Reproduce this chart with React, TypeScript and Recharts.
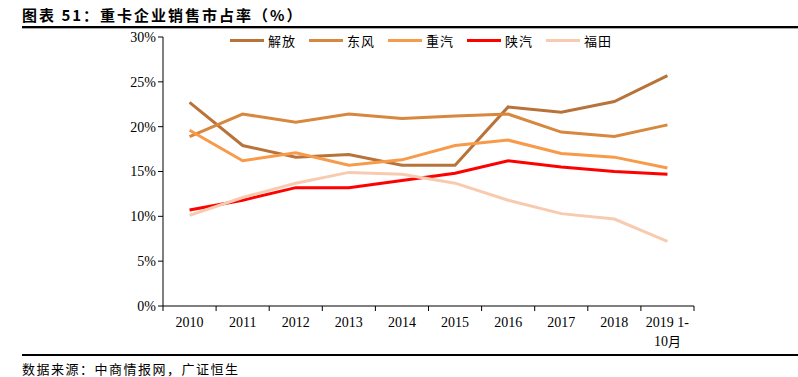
import React from "react";
import { LineChart, Line, XAxis, YAxis } from "recharts";

const years = ["2010", "2011", "2012", "2013", "2014", "2015", "2016", "2017", "2018", "2019 1-\n10月"];
const jiefang = [22.7, 17.9, 16.6, 16.9, 15.7, 15.7, 22.2, 21.6, 22.8, 25.7];
const dongfeng = [18.9, 21.4, 20.5, 21.4, 20.9, 21.2, 21.4, 19.4, 18.9, 20.2];
const zhongqi = [19.6, 16.2, 17.1, 15.7, 16.3, 17.9, 18.5, 17.0, 16.6, 15.4];
const shanqi = [10.7, 11.8, 13.2, 13.2, 14.0, 14.8, 16.2, 15.5, 15.0, 14.7];
const futian = [10.1, 12.1, 13.7, 14.9, 14.7, 13.7, 11.8, 10.3, 9.7, 7.2];
const yTicks = [0, 5, 10, 15, 20, 25, 30];

const series = [
  { key: "解放", values: jiefang, color: "#b8733a" },
  { key: "东风", values: dongfeng, color: "#d8873f" },
  { key: "重汽", values: zhongqi, color: "#f79a4a" },
  { key: "陕汽", values: shanqi, color: "#ff0000" },
  { key: "福田", values: futian, color: "#f8cbb0" },
];

const data = years.map((y, i) => {
  const row: Record<string, number> = { x: i };
  series.forEach((s) => (row[s.key] = s.values[i]));
  return row;
});

const labelTicks = years.map((_, i) => i);
const boundaryTicks = [...years.map((_, i) => i - 0.5), years.length - 0.5];

const SERIF = "'Liberation Serif', 'Times New Roman', serif";
const CJK = "'Noto Sans CJK SC', sans-serif";

function YearTick(props: any) {
  const { x, y, payload } = props;
  const lines = String(years[payload.value] ?? "").split("\n");
  return (
    <text x={x} y={y + 12} textAnchor="middle" fontSize={14} fill="#000" fontFamily={SERIF}>
      {lines.map((l, i) => (
        <tspan key={i} x={x} dy={i === 0 ? 0 : 19}>
          {l.includes("月") ? (
            <>
              {l.replace("月", "")}
              <tspan fontFamily={CJK} fontSize={13}>月</tspan>
            </>
          ) : (
            l
          )}
        </tspan>
      ))}
    </text>
  );
}

export default function App() {
  return (
    <div
      style={{
        position: "absolute",
        left: 0,
        top: 0,
        width: 798,
        height: 377,
        background: "#fff",
        overflow: "hidden",
      }}
    >
      <div
        style={{
          position: "absolute",
          left: 22,
          top: 4,
          fontFamily: CJK,
          fontWeight: "bold",
          fontSize: 15,
          letterSpacing: 2,
          color: "#000",
          whiteSpace: "nowrap",
        }}
      >
        图表 51：重卡企业销售市占率（%）
      </div>
      <div style={{ position: "absolute", left: 22, top: 26, width: 776, height: 2, background: "#000" }} />
      <div style={{ position: "absolute", left: 22, top: 28, width: 776, height: 1, background: "#aaa" }} />

      <div style={{ position: "absolute", left: 0, top: 0 }}>
        <LineChart
          width={798}
          height={377}
          data={data}
          margin={{ top: 37, right: 104, left: 0, bottom: 0 }}
        >
          <XAxis
            xAxisId="b"
            dataKey="x"
            type="number"
            domain={[-0.5, years.length - 0.5]}
            ticks={boundaryTicks}
            tickFormatter={() => ""}
            height={1}
            stroke="#000"
            tickSize={5}
          />
          <XAxis
            xAxisId="l"
            dataKey="x"
            type="number"
            domain={[-0.5, years.length - 0.5]}
            ticks={labelTicks}
            axisLine={false}
            tickLine={false}
            tick={<YearTick />}
            height={70}
            interval={0}
          />
          <YAxis
            domain={[0, 30]}
            ticks={yTicks}
            width={163}
            stroke="#000"
            tickSize={5}
            tickFormatter={(v) => `${v}%`}
            tick={{ fontSize: 14, fill: "#000", fontFamily: SERIF }}
            interval={0}
          />
          {series.map((s) => (
            <Line
              key={s.key}
              xAxisId="l"
              dataKey={s.key}
              stroke={s.color}
              strokeWidth={3}
              dot={false}
              type="linear"
              isAnimationActive={false}
            />
          ))}
        </LineChart>
      </div>

      <div
        style={{
          position: "absolute",
          left: 230,
          top: 31,
          display: "flex",
          fontFamily: CJK,
          fontSize: 13,
          letterSpacing: 1,
          color: "#000",
        }}
      >
        {series.map((s) => (
          <div key={s.key} style={{ display: "flex", alignItems: "center", width: 79 }}>
            <span style={{ display: "inline-block", width: 34, height: 3, background: s.color, marginRight: 4 }} />
            <span>{s.key}</span>
          </div>
        ))}
      </div>

      <div style={{ position: "absolute", left: 22, top: 354, width: 776, height: 2, background: "#000" }} />
      <div
        style={{
          position: "absolute",
          left: 22,
          top: 359,
          fontFamily: CJK,
          fontSize: 13,
          letterSpacing: 1.5,
          color: "#000",
          whiteSpace: "nowrap",
        }}
      >
        数据来源：中商情报网，广证恒生
      </div>
    </div>
  );
}
